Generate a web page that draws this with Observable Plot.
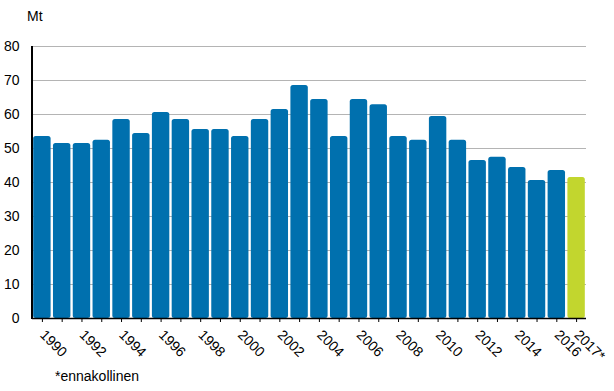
<!DOCTYPE html>
<html>
<head>
<meta charset="utf-8">
<script src="https://cdn.jsdelivr.net/npm/d3@7"></script>
<script src="https://cdn.jsdelivr.net/npm/@observablehq/plot@0.6"></script>
<style>
  html, body { margin: 0; padding: 0; background: #fff; }
  #wrap { position: relative; width: 614px; height: 391px; font-family: "Liberation Sans", Arial, sans-serif; }
  #unit { position: absolute; left: 27px; top: 8px; font-size: 14px; color: #000; }
  #note { position: absolute; left: 55px; top: 368px; font-size: 14px; color: #000; }
</style>
</head>
<body>
<div id="wrap">
  <div id="chart"></div>
  <div id="unit">Mt</div>
  <div id="note">*ennakollinen</div>
</div>
<script>
const years = ["1990","1991","1992","1993","1994","1995","1996","1997","1998","1999","2000","2001","2002","2003","2004","2005","2006","2007","2008","2009","2010","2011","2012","2013","2014","2015","2016","2017*"];
const values = [53.5,51.5,51.5,52.4,58.5,54.4,60.6,58.5,55.6,55.6,53.5,58.5,61.5,68.5,64.4,53.5,64.4,62.9,53.5,52.4,59.4,52.4,46.5,47.4,44.4,40.6,43.5,41.5];
const preliminary = ["2017*"];
const yTicks = [0,10,20,30,40,50,60,70,80];
const xLabels = ["1990","1992","1994","1996","1998","2000","2002","2004","2006","2008","2010","2012","2014","2016","2017*"];

const data = years.map((y, i) => ({year: y, value: values[i], prelim: preliminary.includes(y)}));

const chart = Plot.plot({
  width: 614,
  height: 391,
  marginLeft: 32,
  marginRight: 28,
  marginTop: 46,
  marginBottom: 73,
  style: {fontFamily: "'Liberation Sans', Arial, sans-serif", fontSize: "14px", color: "#000", background: "#fff"},
  x: {domain: years, paddingInner: 0.12, paddingOuter: 0.06, round: false, label: null},
  y: {domain: [0, 80], label: null},
  marks: [
    Plot.gridY(yTicks.filter(d => d > 0), {stroke: "#b4b4b4", strokeOpacity: 1, strokeWidth: 1}),
    Plot.barY(data, {x: "year", y: "value", fill: d => d.prelim ? "#c2d62e" : "#0070ae", rx: 2.5}),
    Plot.axisY({ticks: yTicks, tickSize: 0, tickPadding: 13, fontSize: 14, label: null}),
    Plot.axisX({ticks: years, tickSize: 4, tickPadding: 10, tickRotate: 45, fontSize: 14, label: null,
      tickFormat: d => xLabels.includes(d) ? d : ""}),
    Plot.ruleY([0], {stroke: "#000", strokeWidth: 1.5})
  ]
});
document.getElementById("chart").appendChild(chart);
// Y axis line at left edge of plot area
d3.select(chart).append("line")
  .attr("x1", 32).attr("x2", 32).attr("y1", 46).attr("y2", 319)
  .attr("stroke", "#000").attr("stroke-width", 2);
</script>
</body>
</html>
